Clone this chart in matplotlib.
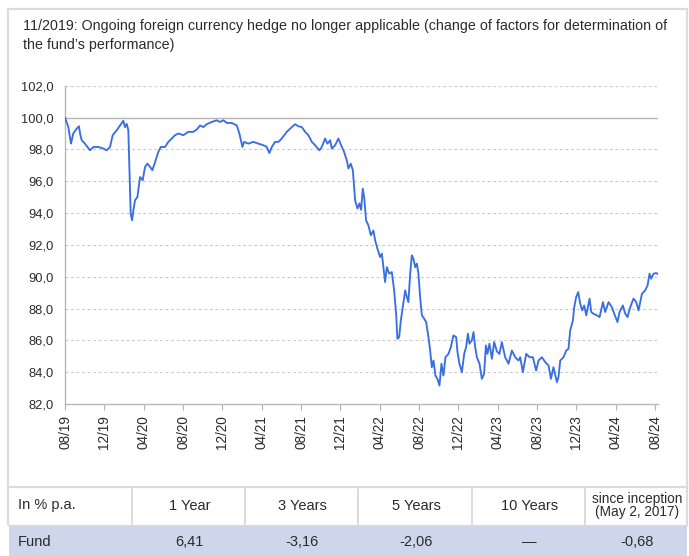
import matplotlib
matplotlib.use("Agg")
import matplotlib.pyplot as plt
from matplotlib.patches import Rectangle
from matplotlib.lines import Line2D

# ---------------- data ----------------
# months since 08/2019
months = [0.00, 0.34, 0.61, 0.84, 1.19, 1.42, 1.53, 1.70, 2.03, 2.54, 2.88, 3.39, 3.90, 4.24, 4.58,
          4.85, 5.26, 5.60, 5.93, 6.10, 6.28, 6.44, 6.54, 6.68, 6.82, 6.95, 7.12, 7.36, 7.63, 7.90,
          8.14, 8.37, 8.65, 8.88, 9.16, 9.49, 9.74, 10.17, 10.51, 10.85, 11.19, 11.53, 12.03, 12.54,
          13.05, 13.40, 13.73, 14.07, 14.41, 14.92, 15.43, 15.77, 16.10, 16.45, 16.96, 17.47, 17.73,
          18.04, 18.21, 18.65, 19.16, 19.66, 20.17, 20.52, 20.78, 21.03, 21.36, 21.70, 22.04, 22.55,
          23.06, 23.40, 23.73, 24.08, 24.42, 24.75, 25.10, 25.43, 25.87, 26.11, 26.45, 26.69, 26.96,
          27.13, 27.47, 27.80, 28.15, 28.38, 28.66, 28.82, 29.06, 29.27, 29.40, 29.50, 29.74, 29.94,
          30.11, 30.28, 30.42, 30.62, 30.85, 31.10, 31.36, 31.54, 31.77, 32.04, 32.22, 32.38, 32.55,
          32.73, 32.96, 33.23, 33.47, 33.67, 33.80, 33.98, 34.15, 34.35, 34.59, 34.76, 34.92, 35.10,
          35.27, 35.43, 35.61, 35.78, 35.94, 36.11, 36.29, 36.52, 36.72, 36.96, 37.13, 37.30, 37.47,
          37.67, 37.87, 38.08, 38.28, 38.48, 38.69, 38.99, 39.24, 39.50, 39.78, 39.91, 40.11, 40.36,
          40.59, 40.79, 40.97, 41.13, 41.37, 41.54, 41.71, 41.88, 42.15, 42.39, 42.62, 42.80, 42.96,
          43.16, 43.41, 43.64, 43.92, 44.18, 44.42, 44.76, 45.10, 45.44, 45.78, 46.11, 46.29, 46.56,
          46.90, 47.24, 47.58, 47.91, 48.15, 48.49, 48.83, 49.17, 49.41, 49.67, 50.02, 50.18, 50.36,
          50.69, 50.97, 51.20, 51.37, 51.65, 51.78, 51.98, 52.19, 52.39, 52.59, 52.80, 53.00, 53.34,
          53.51, 53.74, 54.09, 54.36, 54.70, 54.93, 55.27, 55.61, 55.85, 56.18, 56.39, 56.73, 56.97,
          57.20, 57.48, 57.81, 58.09, 58.32, 58.67, 59.00, 59.24, 59.44, 59.61, 59.85, 60.12, 60.36]

fund = [100.0, 99.4, 98.36, 99.0, 99.3, 99.45, 99.0, 98.57, 98.36, 97.94, 98.15, 98.15, 98.05, 97.94, 98.15,
        98.89, 99.2, 99.5, 99.8, 99.4, 99.6, 99.2, 97.1, 93.96, 93.54, 94.17, 94.8, 95.0, 96.26, 96.06,
        96.9, 97.1, 96.9, 96.69, 97.2, 97.84, 98.15, 98.15, 98.47, 98.68, 98.89, 99.0, 98.89, 99.1,
        99.1, 99.25, 99.5, 99.4, 99.58, 99.72, 99.83, 99.72, 99.83, 99.66, 99.66, 99.5, 99.0,
        98.15, 98.47, 98.36, 98.47, 98.36, 98.26, 98.15, 97.77, 98.15, 98.47, 98.47, 98.68, 99.1,
        99.4, 99.58, 99.45, 99.4, 99.1, 98.89, 98.47, 98.26, 97.94, 98.15, 98.68, 98.36, 98.57,
        98.05, 98.26, 98.68, 98.15, 97.84, 97.3, 96.8, 97.1, 96.69, 95.64, 94.8, 94.28, 94.6,
        94.2, 95.53, 95.0, 93.54, 93.23, 92.6, 92.9, 92.28, 91.76, 91.23, 91.45, 90.6, 89.66,
        90.6, 90.19, 90.29, 89.14, 87.67, 86.1, 86.2, 87.25, 88.09, 89.14, 88.72, 88.4, 90.19,
        91.34, 91.13, 90.6, 90.82, 90.19, 88.72, 87.57, 87.36, 87.15, 86.2, 85.36, 84.31, 84.73,
        83.79, 83.58, 83.16, 84.53, 83.79, 84.94, 85.15, 85.57, 86.31, 86.2, 85.26, 84.53, 84.0,
        85.15, 85.57, 86.42, 85.79, 86.0, 86.52, 85.57, 84.94, 84.53, 83.58, 83.9, 85.68, 85.15,
        85.79, 84.84, 85.89, 85.3, 85.15, 85.89, 84.94, 84.53, 85.36, 84.94, 84.73, 84.94, 84.0,
        85.15, 84.94, 84.94, 84.1, 84.73, 84.94, 84.63, 84.42, 83.58, 84.31, 83.37, 83.69, 84.73,
        84.94, 85.36, 85.47, 86.62, 87.25, 88.09, 88.72, 89.03, 88.3, 87.88, 88.19, 87.57, 88.62,
        87.78, 87.67, 87.57, 87.46, 88.4, 87.78, 88.4, 88.09, 87.67, 87.15, 87.78, 88.19, 87.67,
        87.46, 88.09, 88.62, 88.4, 87.88, 88.93, 89.14, 89.45, 90.19, 89.87, 90.19, 90.23, 90.14]

xtick_labels = ['08/19', '12/19', '04/20', '08/20', '12/20', '04/21', '08/21', '12/21',
                '04/22', '08/22', '12/22', '04/23', '08/23', '12/23', '04/24', '08/24']
ytick_values = [82, 84, 86, 88, 90, 92, 94, 96, 98, 100, 102]

note_line1 = "11/2019: Ongoing foreign currency hedge no longer applicable (change of factors for determination of"
note_line2 = "the fund\u2019s performance)"

table_header = ['In % p.a.', '1 Year', '3 Years', '5 Years', '10 Years', 'since inception\n(May 2, 2017)']
table_row = ['Fund', '6,41', '-3,16', '-2,06', '\u2014', '-0,68']

# ---------------- style ----------------
plt.rcParams['font.family'] = ['Liberation Sans', 'DejaVu Sans']

W, H = 689, 556
fig = plt.figure(figsize=(W / 100, H / 100), dpi=100)
fig.patch.set_facecolor('white')

def fx(px):
    return px / W

def fy(py):
    return 1 - py / H

TXT = '#2b2b2b'
GRID = '#c9c9c9'
FRAME = '#dcdcdc'

ax = fig.add_axes([fx(65), fy(404), fx(658) - fx(65), fy(85.7) - fy(404)])
ax.plot(months, fund, color='#3a6fe2', lw=1.35, solid_joinstyle='round', zorder=3)

ax.set_xlim(0, 60.3)
ax.set_ylim(82, 102)
ax.set_xticks(range(0, 4 * len(xtick_labels), 4))
ax.set_xticklabels(xtick_labels, rotation=90, fontsize=9.8, color=TXT)
ax.set_yticks(ytick_values)
ax.set_yticklabels([f"{v:.1f}".replace('.', ',') for v in ytick_values], fontsize=9.3, color=TXT)
ax.tick_params(axis='x', length=4, width=0.8, color='#b0b0b0', pad=4)
ax.tick_params(axis='y', length=0, pad=8)

for v in ytick_values:
    if v == 100:
        ax.axhline(v, color='#b5b5b5', lw=1.0, zorder=1)
    elif v != 82:
        ax.axhline(v, color=GRID, lw=0.8, ls=(0, (2.5, 2.5)), zorder=1)

for s in ['top', 'right']:
    ax.spines[s].set_visible(False)
for s in ['left', 'bottom']:
    ax.spines[s].set_color('#b8b8b8')
    ax.spines[s].set_linewidth(1.0)

# outer frame of chart area
for xs, ys in [([8, 8], [9, 524]), ([687, 687], [9, 524]), ([8, 687], [9, 9])]:
    fig.add_artist(Line2D([fx(v) for v in xs], [fy(v) for v in ys], color=FRAME, lw=1.6,
                          transform=fig.transFigure))

# note text, sized so that the first line spans the same width as in the source
renderer = fig.canvas.get_renderer()
t1 = fig.text(fx(23), fy(30), note_line1, fontsize=10.5, color=TXT, ha='left', va='baseline')
w1 = t1.get_window_extent(renderer).width
fs_note = 10.5 * 641 / w1
t1.set_fontsize(fs_note)
fig.text(fx(23), fy(49.5), note_line2, fontsize=fs_note, color=TXT, ha='left', va='baseline')

# table
fig.add_artist(Line2D([fx(8), fx(687)], [fy(487), fy(487)], color=FRAME, lw=1.6, transform=fig.transFigure))
fig.add_artist(Line2D([fx(8), fx(687)], [fy(524.5), fy(524.5)], color=FRAME, lw=1.0, transform=fig.transFigure))
seps = [132, 245, 358, 472, 585]
for sx in seps:
    fig.add_artist(Line2D([fx(sx), fx(sx)], [fy(487), fy(524)], color=FRAME, lw=1.4,
                          transform=fig.transFigure))
fig.add_artist(Rectangle((fx(9), 0), fx(687) - fx(9), fy(525), transform=fig.transFigure,
                         facecolor='#cdd6ea', edgecolor='none'))

edges = [8] + seps + [687]
fs_tab = fs_note * 1.03
for i, (hd, val) in enumerate(zip(table_header, table_row)):
    if i == 0:
        xpos, ha = fx(18), 'left'
    else:
        xpos, ha = fx((edges[i] + edges[i + 1]) / 2 + 1), 'center'
    fsh = fs_tab * (0.93 if '\n' in hd else 1.0)
    fig.text(xpos, fy(505.5), hd, fontsize=fsh, color=TXT, ha=ha, va='center',
             linespacing=0.9)
    fig.text(xpos, fy(542), val, fontsize=fs_tab, color=TXT, ha=ha, va='center')

fig.savefig('out.png', dpi=100, facecolor='white')
